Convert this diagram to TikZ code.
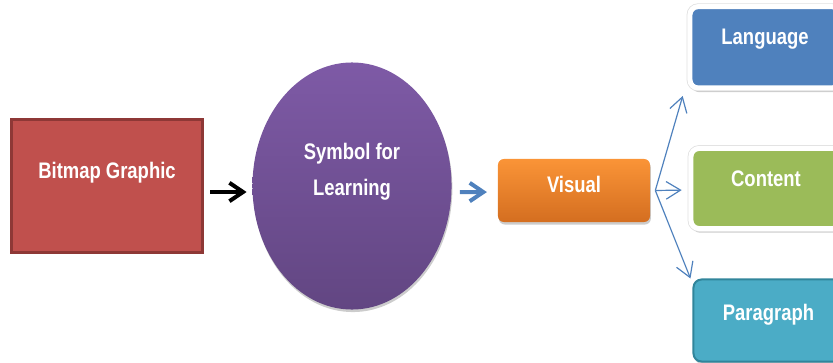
\documentclass[tikz,border=0pt]{standalone}
\usepackage{fontspec}
\setmainfont{Liberation Sans}[FakeStretch=0.82]
\usepackage{tikz}
\definecolor{bitmapred}{RGB}{192, 80, 77}
\definecolor{bitmapedge}{RGB}{142, 56, 54}
\definecolor{symboltop}{RGB}{126, 90, 166}
\definecolor{symbolbottom}{RGB}{98, 70, 130}
\definecolor{visualtop}{RGB}{250, 148, 55}
\definecolor{visualbottom}{RGB}{212, 110, 32}
\definecolor{languageblue}{RGB}{79, 129, 189}
\definecolor{contentgreen}{RGB}{155, 187, 89}
\definecolor{paragraphteal}{RGB}{75, 172, 198}
\definecolor{paragraphedge}{RGB}{49, 133, 155}
\usetikzlibrary{shapes.geometric, arrows.meta, positioning, shadows}

\begin{document}
\begin{tikzpicture}[
    x=0.025cm, y=-0.025cm,
    boxfont/.style={font=\fontsize{16}{25}\selectfont\bfseries, text=white},
    softshadow/.style={drop shadow={shadow xshift=0.6pt, shadow yshift=-1.8pt,
                fill=black, opacity=0.2}},
    box/.style={rectangle, boxfont, inner sep=0pt, text height=0.4cm},
    sidebox/.style={box, draw=white, line width=0.125cm, rounded corners=0.2cm,
                minimum width=3.75cm,
                drop shadow={shadow xshift=0.8pt, shadow yshift=-3pt, fill=black, opacity=0.2},
                preaction={draw=black!12, line width=0.165cm}},
    flow/.style={-{Straight Barb[length=0.34cm, width=0.46cm]}, line width=0.1cm},
    branch/.style={-{Straight Barb[length=0.36cm, width=0.44cm]}, line width=0.85pt, languageblue}
]
    \useasboundingbox (0,0) rectangle (833,362);
    \clip (0,0) rectangle (833,362);

    \node[box, fill=bitmapred, draw=bitmapedge, line width=0.075cm,
          minimum width=4.775cm, minimum height=3.325cm, text depth=0.785cm]
          (bitmap) at (107,186) {Bitmap Graphic};
    \node[ellipse, boxfont, align=center, inner sep=0pt, minimum width=4.975cm,
          minimum height=6.175cm, top color=symboltop, bottom color=symbolbottom,
          softshadow, text height=0.55cm, text depth=0.1cm]
          (symbol) at (352,186) {Symbol for\\Learning};
    \node[box, rounded corners=0.15cm, top color=visualtop, bottom color=visualbottom,
          minimum width=3.8cm, minimum height=1.575cm, text depth=0.3cm, softshadow]
          (visual) at (574,190.5) {Visual};

    % right-hand column, cut by the page edge
    \node[sidebox, fill=languageblue, minimum height=2.03cm, text depth=0.52cm]
          (language) at (765,47.3) {Language};
    \node[sidebox, fill=contentgreen, minimum height=2cm, text depth=0.5cm]
          (content) at (766,188.5) {Content};
    \node[box, fill=paragraphteal, draw=paragraphedge, line width=0.05cm,
          rounded corners=0.2cm, minimum width=3.75cm, minimum height=2.05cm,
          text depth=0.4cm, softshadow]
          (paragraph) at (768.5,320.5) {Paragraph};

    \draw[flow, shorten <=0.15cm, shorten >=0.14cm]
        ([yshift=-0.15cm]bitmap.east) -- ([yshift=-0.15cm]symbol.west);
    \draw[flow, languageblue, shorten <=0.2cm, shorten >=0.27cm]
        ([yshift=-0.15cm]symbol.east) -- ([yshift=-0.04cm]visual.west);

    \coordinate (fork) at ([xshift=0.125cm]visual.east);
    \draw[branch] (fork) -- ([xshift=-0.12cm, yshift=-0.14cm]language.south west);
    \draw[branch] (fork) -- ([xshift=-0.17cm, yshift=-0.04cm]content.west);
    \draw[branch] (fork) -- ([xshift=-0.05cm]paragraph.north west);
\end{tikzpicture}
\end{document}
